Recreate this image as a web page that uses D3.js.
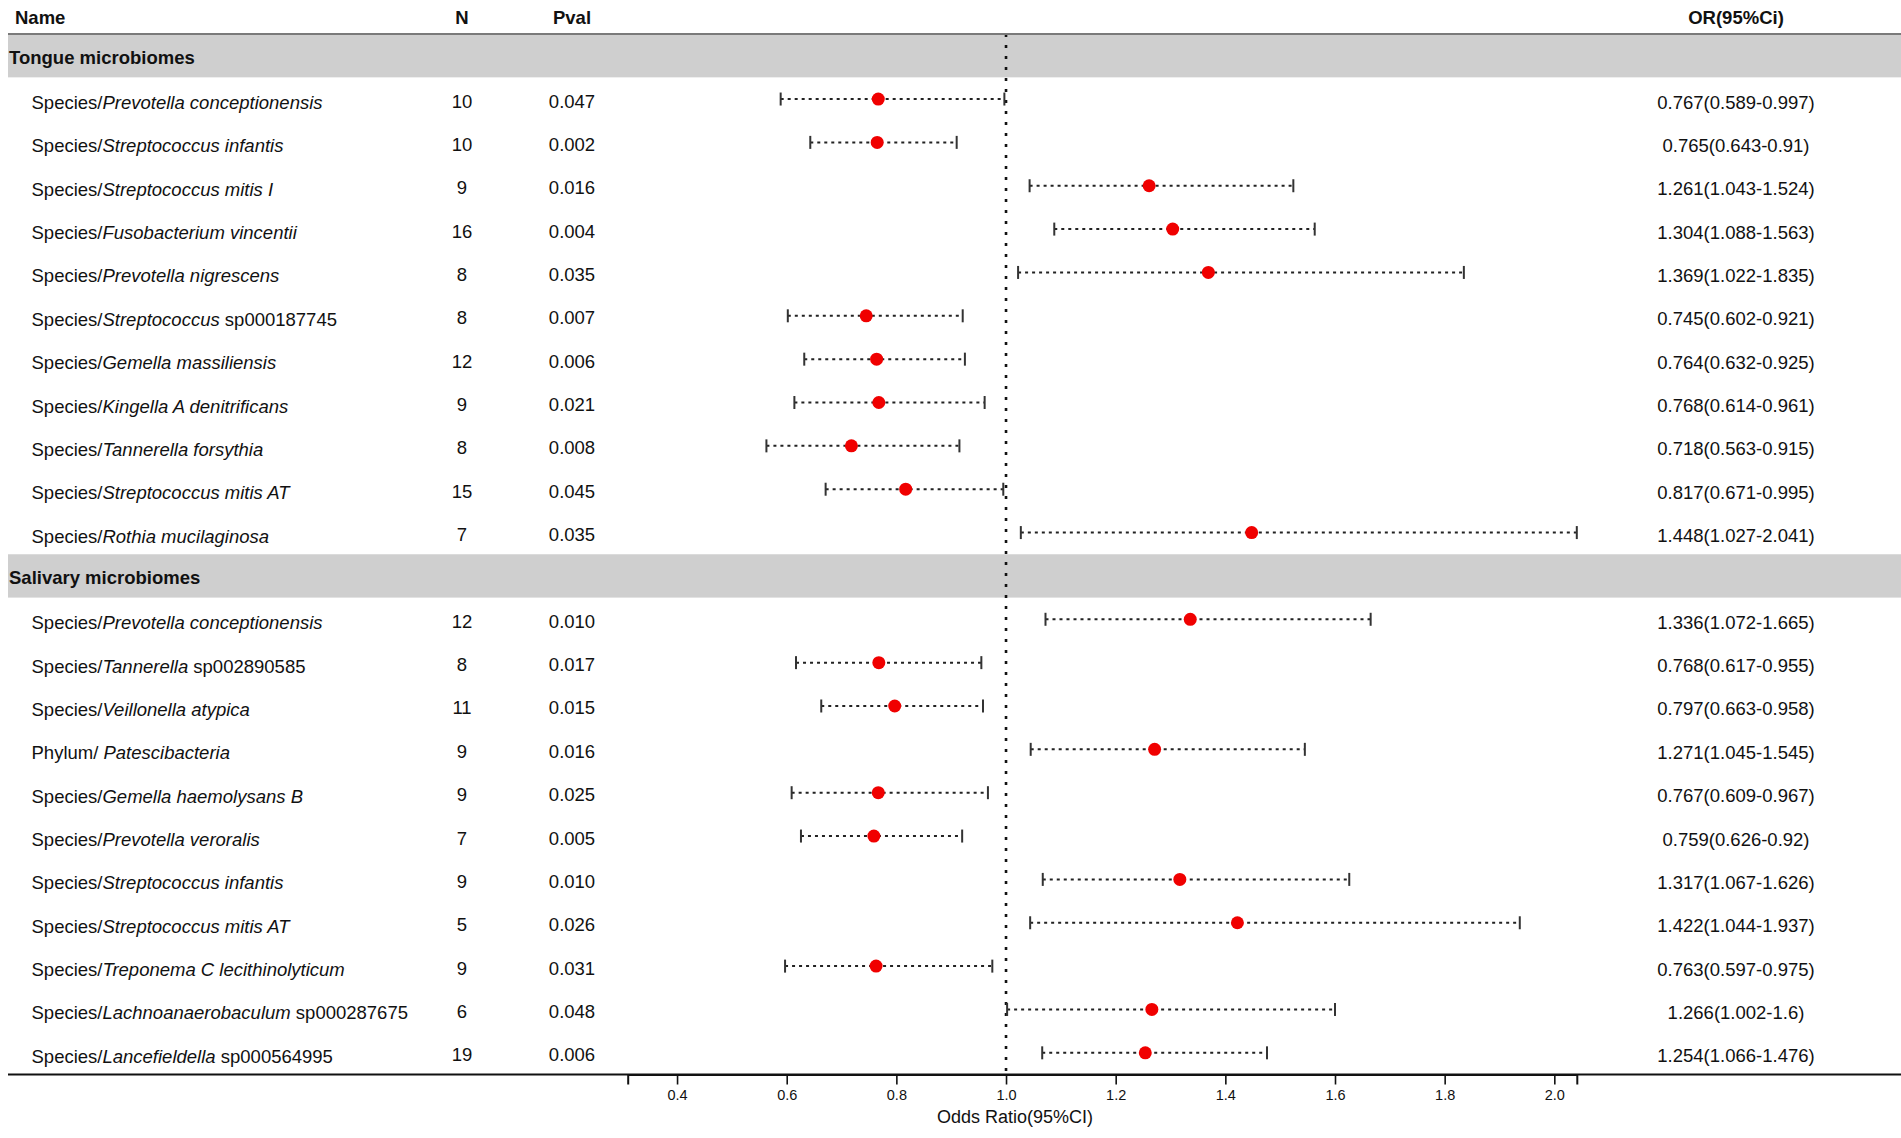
<!DOCTYPE html>
<html>
<head>
<meta charset="utf-8">
<script src="https://cdn.jsdelivr.net/npm/d3@7"></script>
<style>
  body { margin: 0; background: #fff; }
  text { font-family: "Liberation Sans", Arial, sans-serif; fill: #111; }
</style>
</head>
<body>
<div id="forest"></div>
<script>
// ---- data ----
var sections = ["Tongue microbiomes", "Salivary microbiomes"];

// [upright prefix, italic part, upright suffix]
var tongueNames = [
    ["Species/", "Prevotella conceptionensis", ""],
    ["Species/", "Streptococcus infantis", ""],
    ["Species/", "Streptococcus mitis I", ""],
    ["Species/", "Fusobacterium vincentii", ""],
    ["Species/", "Prevotella nigrescens", ""],
    ["Species/", "Streptococcus", " sp000187745"],
    ["Species/", "Gemella massiliensis", ""],
    ["Species/", "Kingella A denitrificans", ""],
    ["Species/", "Tannerella forsythia", ""],
    ["Species/", "Streptococcus mitis AT", ""],
    ["Species/", "Rothia mucilaginosa", ""]
];
var tongueN = [10, 10, 9, 16, 8, 8, 12, 9, 8, 15, 7];
var tonguePval = [0.047, 0.002, 0.016, 0.004, 0.035, 0.007, 0.006, 0.021, 0.008, 0.045, 0.035];
var tongueOR = [0.767, 0.765, 1.261, 1.304, 1.369, 0.745, 0.764, 0.768, 0.718, 0.817, 1.448];
var tongueLow = [0.589, 0.643, 1.043, 1.088, 1.022, 0.602, 0.632, 0.614, 0.563, 0.671, 1.027];
var tongueHigh = [0.997, 0.91, 1.524, 1.563, 1.835, 0.921, 0.925, 0.961, 0.915, 0.995, 2.041];

var salivaNames = [
    ["Species/", "Prevotella conceptionensis", ""],
    ["Species/", "Tannerella", " sp002890585"],
    ["Species/", "Veillonella atypica", ""],
    ["Phylum/ ", "Patescibacteria", ""],
    ["Species/", "Gemella haemolysans B", ""],
    ["Species/", "Prevotella veroralis", ""],
    ["Species/", "Streptococcus infantis", ""],
    ["Species/", "Streptococcus mitis AT", ""],
    ["Species/", "Treponema C lecithinolyticum", ""],
    ["Species/", "Lachnoanaerobaculum", " sp000287675"],
    ["Species/", "Lancefieldella", " sp000564995"]
];
var salivaN = [12, 8, 11, 9, 9, 7, 9, 5, 9, 6, 19];
var salivaPval = [0.010, 0.017, 0.015, 0.016, 0.025, 0.005, 0.010, 0.026, 0.031, 0.048, 0.006];
var salivaOR = [1.336, 0.768, 0.797, 1.271, 0.767, 0.759, 1.317, 1.422, 0.763, 1.266, 1.254];
var salivaLow = [1.072, 0.617, 0.663, 1.045, 0.609, 0.626, 1.067, 1.044, 0.597, 1.002, 1.066];
var salivaHigh = [1.665, 0.955, 0.958, 1.545, 0.967, 0.92, 1.626, 1.937, 0.975, 1.6, 1.476];

var tickVals = [0.4, 0.6, 0.8, 1.0, 1.2, 1.4, 1.6, 1.8, 2.0];
var xDomain = [0.31, 2.041];

// ---- layout ----
var svgWidth = 1901;
var svgHeight = 1138;
var tableTop = 34;
var tableBottom = 1074.5;
var orColX = 1736;

var svg = d3.select("#forest")
    .append("svg")
    .attr("width", svgWidth)
    .attr("height", svgHeight);

// flatten rows: section header, then its entries
function buildRows(label, names, n, p, or, lo, hi) {
    var out = [{ section: label }];
    names.forEach(function(nm, i) {
        out.push({ name: nm, n: n[i], p: p[i], or: or[i], lo: lo[i], hi: hi[i] });
    });
    return out;
}
var rows = buildRows(sections[0], tongueNames, tongueN, tonguePval, tongueOR, tongueLow, tongueHigh)
    .concat(buildRows(sections[1], salivaNames, salivaN, salivaPval, salivaOR, salivaLow, salivaHigh));
rows.forEach(function(d, i) { d.idx = i; });

var yScale = d3.scaleBand()
    .domain(d3.range(rows.length))
    .range([tableTop, tableBottom]);
var yMid = function(i) { return yScale(i) + yScale.bandwidth() / 2; };

var xScale = d3.scaleLinear()
    .domain(xDomain)
    .range([627.7, 1576.8]);

var sectionRows = rows.filter(function(d) { return d.section; });
var dataRows = rows.filter(function(d) { return !d.section; });

// grey section bands
svg.append("g").selectAll("rect")
    .data(sectionRows)
    .enter()
    .append("rect")
    .attr("x", 8)
    .attr("y", d => yScale(d.idx))
    .attr("width", svgWidth - 8)
    .attr("height", yScale.bandwidth())
    .attr("fill", "#cfcfcf");

svg.append("g").selectAll("text")
    .data(sectionRows)
    .enter()
    .append("text")
    .attr("x", 9)
    .attr("y", d => yMid(d.idx) + 2)
    .attr("dominant-baseline", "central")
    .style("font-size", "18.5px")
    .style("font-weight", "bold")
    .text(d => d.section);

// reference line at OR = 1
svg.append("line")
    .attr("x1", xScale(1)).attr("x2", xScale(1))
    .attr("y1", tableTop).attr("y2", tableBottom)
    .attr("stroke", "#111")
    .attr("stroke-width", 2.6)
    .attr("stroke-dasharray", "3,8");

// confidence intervals
var ciGroup = svg.append("g");
ciGroup.selectAll("line.ci")
    .data(dataRows)
    .enter()
    .append("line")
    .attr("class", "ci")
    .attr("x1", d => xScale(d.lo))
    .attr("x2", d => xScale(d.hi))
    .attr("y1", d => yMid(d.idx))
    .attr("y2", d => yMid(d.idx))
    .attr("stroke", "#222")
    .attr("stroke-width", 2)
    .attr("stroke-dasharray", "3,4");

["lo", "hi"].forEach(function(key) {
    ciGroup.selectAll("line.cap-" + key)
        .data(dataRows)
        .enter()
        .append("line")
        .attr("class", "cap-" + key)
        .attr("x1", d => xScale(d[key]))
        .attr("x2", d => xScale(d[key]))
        .attr("y1", d => yMid(d.idx) - 6.5)
        .attr("y2", d => yMid(d.idx) + 6.5)
        .attr("stroke", "#333")
        .attr("stroke-width", 2);
});

ciGroup.selectAll("circle")
    .data(dataRows)
    .enter()
    .append("circle")
    .attr("cx", d => xScale(d.or))
    .attr("cy", d => yMid(d.idx))
    .attr("r", 6.5)
    .attr("fill", "#f00000");

// table text
var fmtP = d3.format(".3f");
var textGroup = svg.append("g").style("font-size", "18.5px");

var nameText = textGroup.selectAll("text.name")
    .data(dataRows)
    .enter()
    .append("text")
    .attr("class", "name")
    .attr("x", 31.5)
    .attr("y", d => yMid(d.idx) + 3)
    .attr("dominant-baseline", "central");
nameText.append("tspan").text(d => d.name[0]);
nameText.append("tspan").style("font-style", "italic").text(d => d.name[1]);
nameText.append("tspan").text(d => d.name[2]);

textGroup.selectAll("text.n")
    .data(dataRows)
    .enter()
    .append("text")
    .attr("x", 462)
    .attr("y", d => yMid(d.idx) + 2)
    .attr("dominant-baseline", "central")
    .attr("text-anchor", "middle")
    .text(d => d.n);

textGroup.selectAll("text.p")
    .data(dataRows)
    .enter()
    .append("text")
    .attr("x", 572)
    .attr("y", d => yMid(d.idx) + 2)
    .attr("dominant-baseline", "central")
    .attr("text-anchor", "middle")
    .text(d => fmtP(d.p));

textGroup.selectAll("text.or")
    .data(dataRows)
    .enter()
    .append("text")
    .attr("x", orColX)
    .attr("y", d => yMid(d.idx) + 3)
    .attr("dominant-baseline", "central")
    .attr("text-anchor", "middle")
    .text(d => `${d.or}(${d.lo}-${d.hi})`);

// column headers
var headers = [
    { label: "Name", x: 15, anchor: "start" },
    { label: "N", x: 462, anchor: "middle" },
    { label: "Pval", x: 572, anchor: "middle" },
    { label: "OR(95%Ci)", x: orColX, anchor: "middle" }
];
svg.append("g").selectAll("text")
    .data(headers)
    .enter()
    .append("text")
    .attr("x", d => d.x)
    .attr("y", 17)
    .attr("dominant-baseline", "central")
    .attr("text-anchor", d => d.anchor)
    .style("font-size", "18.5px")
    .style("font-weight", "bold")
    .text(d => d.label);

svg.append("line")
    .attr("x1", 8).attr("x2", svgWidth)
    .attr("y1", tableTop).attr("y2", tableTop)
    .attr("stroke", "#7a7a7a")
    .attr("stroke-width", 2);

// bottom rule + axis
svg.append("line")
    .attr("x1", 8).attr("x2", svgWidth)
    .attr("y1", tableBottom).attr("y2", tableBottom)
    .attr("stroke", "#111")
    .attr("stroke-width", 2);

var bottomAxis = d3.axisBottom(xScale)
    .tickValues(tickVals)
    .tickFormat(d3.format(".1f"))
    .tickSize(10)
    .tickSizeOuter(10)
    .tickPadding(5);

var xAxis = svg.append("g")
    .attr("transform", `translate(0, ${tableBottom})`)
    .call(bottomAxis);
xAxis.select(".domain").attr("stroke", "#111").attr("stroke-width", 2);
xAxis.selectAll(".tick line").attr("stroke", "#111").attr("stroke-width", 1.6);
xAxis.selectAll(".tick text")
    .style("font-size", "14.5px")
    .style("font-family", "'Liberation Sans', Arial, sans-serif")
    .attr("fill", "#111");

svg.append("text")
    .attr("x", 1015)
    .attr("y", 1117)
    .attr("dominant-baseline", "central")
    .attr("text-anchor", "middle")
    .style("font-size", "18px")
    .text("Odds Ratio(95%CI)");
</script>
</body>
</html>
